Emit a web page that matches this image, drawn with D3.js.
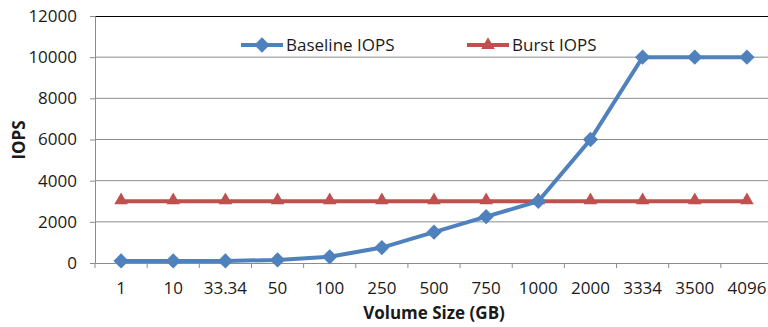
<!DOCTYPE html>
<html>
<head>
<meta charset="utf-8">
<script src="https://cdn.jsdelivr.net/npm/d3@7"></script>
<style>
  body { margin: 0; background: white; }
  text { font-family: "Open Sans", "Noto Sans", sans-serif; }
</style>
</head>
<body>
<div id="container"></div>
<script>
// chart data
let sizes = ["1", "10", "33.34", "50", "100", "250", "500", "750", "1000", "2000", "3334", "3500", "4096"];
let baseline = [100, 100, 100, 150, 300, 750, 1500, 2250, 3000, 6000, 10000, 10000, 10000];
let burst = [3000, 3000, 3000, 3000, 3000, 3000, 3000, 3000, 3000, 3000, 3000, 3000, 3000];
let yTicks = [0, 2000, 4000, 6000, 8000, 10000, 12000];

let blue = "#4F81BD";
let red = "#C0504D";
let ink = "#1a1a1a";

let viz = d3.select("#container")
  .append("svg")
    .attr("width", 768)
    .attr("height", 327)
    .style("background-color", "white");

let plotLeft = 95, plotTop = 16, plotBottom = 263, plotRight = 773;

let x = d3.scaleBand().domain(sizes).range([plotLeft, plotRight]);
let y = d3.scaleLinear().domain([0, 12000]).range([plotBottom, plotTop]);

// gridlines
viz.append("g")
  .selectAll("line")
  .data(yTicks.filter(d => d > 0 && d < 12000))
  .join("line")
    .attr("x1", plotLeft).attr("x2", plotRight)
    .attr("y1", d => y(d)).attr("y2", d => y(d))
    .attr("stroke", "#8c8c8c").attr("stroke-width", 1);

// top border
viz.append("line")
  .attr("x1", plotLeft).attr("x2", plotRight)
  .attr("y1", plotTop + 0.5).attr("y2", plotTop + 0.5)
  .attr("stroke", "black").attr("stroke-width", 1);

// y axis
let yAxis = viz.append("g")
  .attr("transform", "translate(" + plotLeft + ",0)")
  .call(d3.axisLeft(y).tickValues(yTicks).tickSize(5).tickPadding(13).tickFormat(d3.format("d")));
yAxis.select(".domain").attr("stroke", "#8c8c8c");
yAxis.selectAll(".tick line").attr("stroke", "#8c8c8c");
yAxis.selectAll("text").attr("font-size", 17).attr("fill", ink);

// x axis
let xAxis = viz.append("g")
  .attr("transform", "translate(0," + plotBottom + ")")
  .call(d3.axisBottom(x).tickSize(0).tickPadding(19));
xAxis.select(".domain").attr("stroke", "#8c8c8c");
xAxis.selectAll("text").attr("font-size", 17).attr("fill", ink);
xAxis.selectAll(".tickmark")
  .data(sizes)
  .join("line")
    .attr("x1", d => x(d)).attr("x2", d => x(d))
    .attr("y1", 0).attr("y2", 5)
    .attr("stroke", "#8c8c8c");

// axis titles
viz.append("text")
  .text("IOPS")
  .attr("font-size", 17)
  .attr("font-weight", "bold")
  .attr("text-anchor", "middle")
  .attr("fill", ink)
  .attr("transform", "translate(25,140) rotate(-90)");

viz.append("text")
  .text("Volume Size (GB)")
  .attr("font-size", 17)
  .attr("font-weight", "bold")
  .attr("text-anchor", "middle")
  .attr("fill", ink)
  .attr("x", 434)
  .attr("y", 319);

let cx = d => x(d) + x.bandwidth() / 2;
let line = d3.line().x((d, i) => cx(sizes[i])).y(d => y(d));

let diamond = d3.symbol().type(d3.symbolDiamond2).size(150);
let triangle = d3.symbol().type(d3.symbolTriangle).size(80);

// burst series
viz.append("path")
  .attr("d", line(burst))
  .attr("fill", "none")
  .attr("stroke", red)
  .attr("stroke-width", 4);

viz.append("g")
  .selectAll("path")
  .data(burst)
  .join("path")
    .attr("d", triangle)
    .attr("transform", (d, i) => "translate(" + cx(sizes[i]) + "," + (y(d) - 1) + ")")
    .attr("fill", red);

// baseline series
viz.append("path")
  .attr("d", line(baseline))
  .attr("fill", "none")
  .attr("stroke", blue)
  .attr("stroke-width", 4);

viz.append("g")
  .selectAll("path")
  .data(baseline)
  .join("path")
    .attr("d", diamond)
    .attr("transform", (d, i) => "translate(" + cx(sizes[i]) + "," + y(d) + ")")
    .attr("fill", blue);

// legend
let legend = [
  {name: "Baseline IOPS", color: blue, shape: diamond, x: 241},
  {name: "Burst IOPS", color: red, shape: triangle, x: 467}
];
let lg = viz.append("g")
  .selectAll("g")
  .data(legend)
  .join("g")
    .attr("transform", d => "translate(" + d.x + ",45)");
lg.append("line")
  .attr("x1", 0).attr("x2", 42)
  .attr("stroke", d => d.color)
  .attr("stroke-width", 4);
lg.append("path")
  .attr("d", d => d.shape())
  .attr("transform", "translate(21,0)")
  .attr("fill", d => d.color);
lg.append("text")
  .text(d => d.name)
  .attr("x", 45)
  .attr("y", 6)
  .attr("font-size", 17)
  .attr("fill", ink);
</script>
</body>
</html>
